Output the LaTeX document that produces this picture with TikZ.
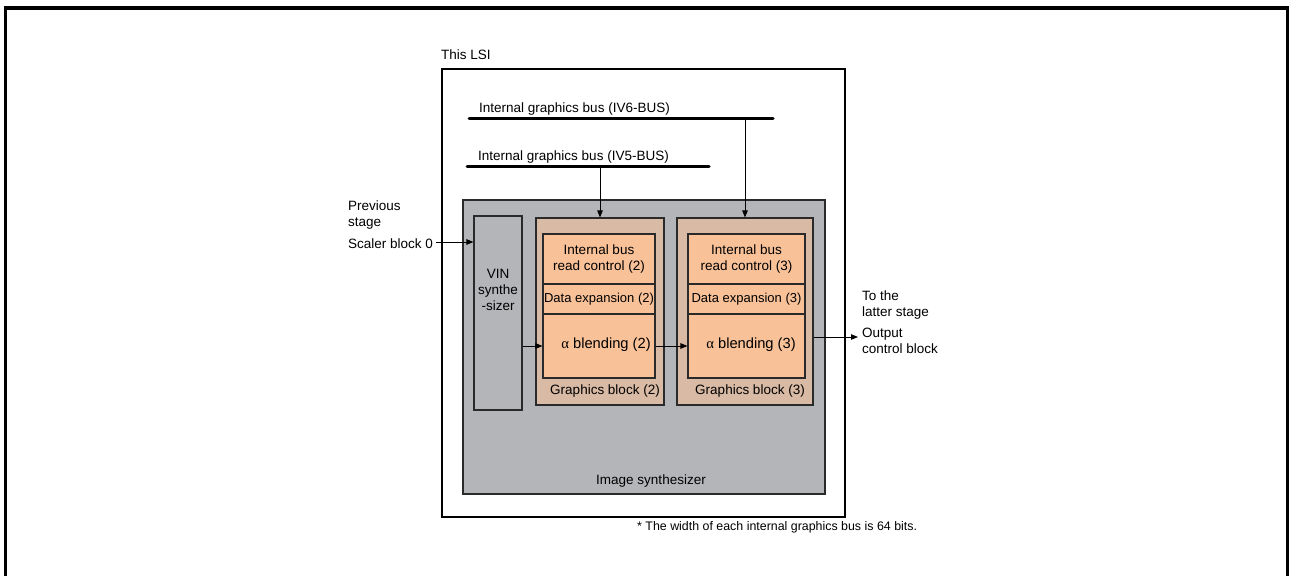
\documentclass[tikz,border=0pt]{standalone}
\usepackage{fontspec}
\setmainfont{Liberation Sans}
\newfontfamily\greekfont{Liberation Serif}
\usepackage{xcolor}
\usetikzlibrary{positioning,arrows.meta}
\definecolor{synthgray}{HTML}{B4B5B8}
\definecolor{blocktan}{HTML}{D9BAA4}
\definecolor{unitorange}{HTML}{F9C198}
\definecolor{edge}{HTML}{2A2A2A}
\tikzset{
  lbl/.style={font=\fontsize{13.5}{16}\selectfont,inner sep=0pt,align=left},
  clbl/.style={font=\fontsize{13.5}{16}\selectfont,inner sep=0pt,align=center},
  lsibox/.style={draw=black,line width=1.1pt,fill=white,inner sep=0pt},
  synth/.style={draw=edge,line width=1.1pt,fill=synthgray,inner sep=0pt},
  gblock/.style={draw=edge,line width=1.1pt,fill=blocktan,inner sep=0pt},
  unit/.style={draw=edge,line width=1.1pt,fill=unitorange,inner sep=0pt,align=center,
               font=\fontsize{13.5}{16}\selectfont},
  bus/.style={line width=3pt,line cap=round},
  arr/.style={-{Triangle[length=7pt,width=5.5pt]},line width=0.9pt},
  frame/.style={line width=3.6pt}
}

\begin{document}
\begin{tikzpicture}[x=1pt,y=-1pt]
  \useasboundingbox (0,0) rectangle (1289,576);
  \draw[frame] (5.5,576) -- (5.5,8) -- (1287.5,8) -- (1287.5,576);

  % this LSI and buses
  \node[lbl,anchor=west] (lsilbl) at (441,55) {This LSI};
  \node[lsibox,minimum width=403,minimum height=448] (lsi) at (643.5,293) {};
  \coordinate (iv6w) at (469,118);
  \coordinate (iv6e) at (773,118);
  \coordinate (iv5w) at (467,166);
  \coordinate (iv5e) at (709,166);
  \draw[bus] (iv6w) -- (iv6e);
  \draw[bus] (iv5w) -- (iv5e);
  \node[lbl,anchor=west] (iv6lbl) at (479,109) {Internal graphics bus (IV6-BUS)};
  \node[lbl,anchor=west] (iv5lbl) at (478,157) {Internal graphics bus (IV5-BUS)};

  % image synthesizer
  \node[synth,minimum width=362,minimum height=294] (synth) at (644,347) {};
  \node[clbl] (synthlbl) at (651,481) {Image synthesizer};
  \node[synth,minimum width=48,minimum height=194] (vin) at (498,313) {};
  \node[clbl] (vinlbl) at (498,290) {VIN\\synthe\\-sizer};

  % graphics blocks
  \node[gblock,minimum width=128,minimum height=187] (gb2) at (600,311.5) {};
  \node[gblock,minimum width=136,minimum height=187] (gb3) at (745,311.5) {};
  \node[clbl] (gb2lbl) at (605,391) {Graphics block (2)};
  \node[clbl] (gb3lbl) at (750,391) {Graphics block (3)};

  \node[unit,minimum width=112,minimum height=50] (rc2) at (599,259) {Internal bus\\read control (2)};
  \node[unit,minimum width=112,minimum height=30,font=\fontsize{13}{15}\selectfont] (de2) at (599,299) {Data expansion (2)};
  \node[unit,minimum width=112,minimum height=64] (ab2) at (599,346) {};
  \node[unit,minimum width=117,minimum height=50] (rc3) at (746.5,259) {Internal bus\\read control (3)};
  \node[unit,minimum width=117,minimum height=30,font=\fontsize{13}{15}\selectfont] (de3) at (746.5,299) {Data expansion (3)};
  \node[unit,minimum width=117,minimum height=64] (ab3) at (746.5,346) {};
  \node[clbl,font=\fontsize{14.7}{17}\selectfont] (ab2lbl) at (606,345) {{\greekfont α} blending (2)};
  \node[clbl,font=\fontsize{14.7}{17}\selectfont] (ab3lbl) at (751,345) {{\greekfont α} blending (3)};

  % outside labels
  \node[lbl,anchor=west] (prevlbl) at (348,215) {Previous\\stage};
  \node[lbl,anchor=west] (scaler) at (348,244) {Scaler block 0};
  \node[lbl,anchor=west] (nextlbl) at (862,305.5) {To the\\latter stage};
  \node[lbl,anchor=west] (outctl) at (862,341) {Output\\control block};
  \coordinate (outend) at (858,337);
  \node[lbl,anchor=west,font=\fontsize{12.4}{14}\selectfont] (note) at (637,527)
    {* The width of each internal graphics bus is 64 bits.};

  % connections
  \draw[arr] (gb2.north |- iv5w) -- (gb2.north);
  \draw[arr] (gb3.north |- iv6w) -- (gb3.north);
  \draw[arr] ([xshift=3,yshift=2]scaler.east) -- ([yshift=2]scaler.east -| vin.west);
  \draw[arr] (vin.east |- ab2.west) -- (ab2.west);
  \draw[arr] (ab2) -- (ab3);
  \draw[arr] (gb3.east |- outend) -- (outend);
\end{tikzpicture}
\end{document}
